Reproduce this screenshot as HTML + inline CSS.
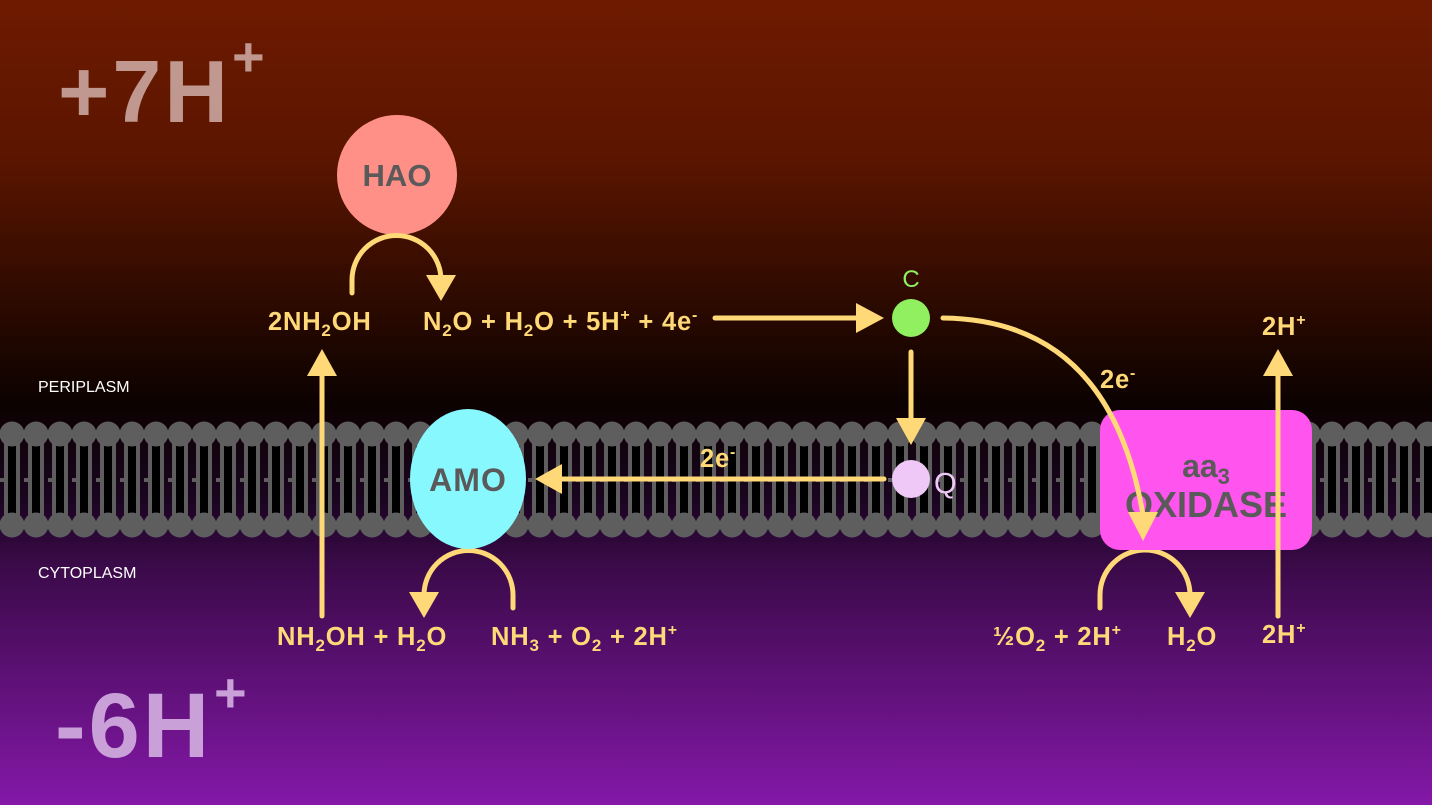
<!DOCTYPE html>
<html><head><meta charset="utf-8"><style>
html,body{margin:0;padding:0;width:1432px;height:805px;overflow:hidden;background:#000}
svg{display:block}
text{font-family:"Liberation Sans",Arial,sans-serif;}
.y{fill:#ffd877;font-weight:bold;font-size:25.5px;letter-spacing:0.8px}
</style></head><body>
<svg width="1432" height="805" viewBox="0 0 1432 805" xmlns="http://www.w3.org/2000/svg">
<defs>
<linearGradient id="bg" x1="0" y1="0" x2="0" y2="1">
<stop offset="0" stop-color="#6e1a00"/>
<stop offset="0.2" stop-color="#5a1500"/>
<stop offset="0.5" stop-color="#0c0200"/>
<stop offset="0.62" stop-color="#1a0520"/>
<stop offset="0.7" stop-color="#3a0a48"/>
<stop offset="1" stop-color="#8418a8"/>
</linearGradient>
<pattern id="lip" x="0" y="0" width="24" height="805" patternUnits="userSpaceOnUse">
<rect x="4" y="440" width="16" height="82" fill="#5e5e5e"/>
<rect x="8" y="446" width="8" height="70" fill="#000"/>
<rect x="0" y="478" width="4" height="4" fill="#5e5e5e"/>
<circle cx="12" cy="434" r="12.5" fill="#5e5e5e"/>
<circle cx="12" cy="525" r="12.5" fill="#5e5e5e"/>
</pattern>
</defs>
<rect width="1432" height="805" fill="url(#bg)"/>
<rect x="0" y="410" width="1432" height="130" fill="url(#lip)"/>

<text x="58" y="122" font-size="88" font-weight="bold" fill="#c09890" letter-spacing="3">+7H</text>
<text x="232" y="76" font-size="56" font-weight="bold" fill="#c09890">+</text>
<text x="55" y="757" font-size="92" font-weight="bold" fill="#c9a0d8" letter-spacing="3">-6H</text>
<text x="214" y="712" font-size="56" font-weight="bold" fill="#c9a0d8">+</text>

<text x="38" y="392" font-size="16" fill="#fff">PERIPLASM</text>
<text x="38" y="578" font-size="16" fill="#fff">CYTOPLASM</text>

<circle cx="397" cy="175" r="60" fill="#ff9088"/>
<text x="397" y="186" font-size="31" font-weight="bold" fill="#5a5a5a" text-anchor="middle">HAO</text>

<g stroke="#ffd877" stroke-width="5" fill="none" stroke-linecap="round">
<path d="M352 293 L352 280 A44.5 44.5 0 0 1 441 280 L441 282"/>
<path d="M715 318 L860 318"/>
<path d="M911 352 L911 420"/>
<path d="M884 479 L560 479"/>
<path d="M1278 616 L1278 375"/>
<path d="M1100 608 L1100 595 A45 45 0 0 1 1190 595 L1190 598"/>
<path d="M513 608 L513 595 A44.5 44.5 0 0 0 424 595 L424 598"/>
<path d="M322 616 L322 375"/>
</g>
<g fill="#ffd877">
<polygon points="426,275 456,275 441,301"/>
<polygon points="856,303 856,333 884,318"/>
<polygon points="896,418 926,418 911,445"/>
<polygon points="562,464 562,494 535,479"/>
<polygon points="1263,376 1293,376 1278,349"/>
<polygon points="1175,592 1205,592 1190,618"/>
<polygon points="409,592 439,592 424,618"/>
<polygon points="307,376 337,376 322,349"/>
</g>

<circle cx="911" cy="318" r="19" fill="#90f060"/>
<text x="911" y="287" font-size="24" fill="#90f060" text-anchor="middle">C</text>

<ellipse cx="468" cy="479" rx="58" ry="70" fill="#88f8ff"/>
<text x="468" y="491" font-size="32" font-weight="bold" fill="#5a5a5a" text-anchor="middle" letter-spacing="1">AMO</text>

<circle cx="911" cy="479" r="19" fill="#f0c8f8"/>
<text x="934" y="493" font-size="29" fill="#f0c8f8">Q</text>

<rect x="1100" y="410" width="212" height="140" rx="20" fill="#ff55ee"/>
<text x="1206" y="477" font-size="32" font-weight="bold" fill="#5a5a5a" text-anchor="middle">aa<tspan font-size="22" dy="7">3</tspan></text>
<text x="1206" y="517" font-size="36" font-weight="bold" fill="#5a5a5a" text-anchor="middle">OXIDASE</text>
<path d="M943 318 Q1110 320 1143 515" stroke="#ffd877" stroke-width="5" fill="none" stroke-linecap="round"/>
<polygon points="1128,512 1158,512 1143,541" fill="#ffd877"/>
<path d="M1278 616 L1278 375" stroke="#ffd877" stroke-width="5" stroke-linecap="round"/>

<text class="y" x="268" y="330">2NH<tspan font-size="17" dy="6">2</tspan><tspan dy="-6">OH</tspan></text>
<text class="y" x="423" y="330">N<tspan font-size="17" dy="6">2</tspan><tspan dy="-6">O + H</tspan><tspan font-size="17" dy="6">2</tspan><tspan dy="-6">O + 5H</tspan><tspan font-size="16" dy="-10">+</tspan><tspan dy="10"> + 4e</tspan><tspan font-size="16" dy="-10">-</tspan></text>
<text class="y" x="700" y="467">2e<tspan font-size="16" dy="-10">-</tspan></text>
<text class="y" x="1100" y="388">2e<tspan font-size="16" dy="-10">-</tspan></text>
<text class="y" x="1262" y="335">2H<tspan font-size="16" dy="-10">+</tspan></text>
<text class="y" x="1262" y="643">2H<tspan font-size="16" dy="-10">+</tspan></text>
<text class="y" x="993" y="645">½O<tspan font-size="17" dy="6">2</tspan><tspan dy="-6"> + 2H</tspan><tspan font-size="16" dy="-10">+</tspan></text>
<text class="y" x="1167" y="645">H<tspan font-size="17" dy="6">2</tspan><tspan dy="-6">O</tspan></text>
<text class="y" x="277" y="645">NH<tspan font-size="17" dy="6">2</tspan><tspan dy="-6">OH + H</tspan><tspan font-size="17" dy="6">2</tspan><tspan dy="-6">O</tspan></text>
<text class="y" x="491" y="645">NH<tspan font-size="17" dy="6">3</tspan><tspan dy="-6"> + O</tspan><tspan font-size="17" dy="6">2</tspan><tspan dy="-6"> + 2H</tspan><tspan font-size="16" dy="-10">+</tspan></text>
</svg>
</body></html>
